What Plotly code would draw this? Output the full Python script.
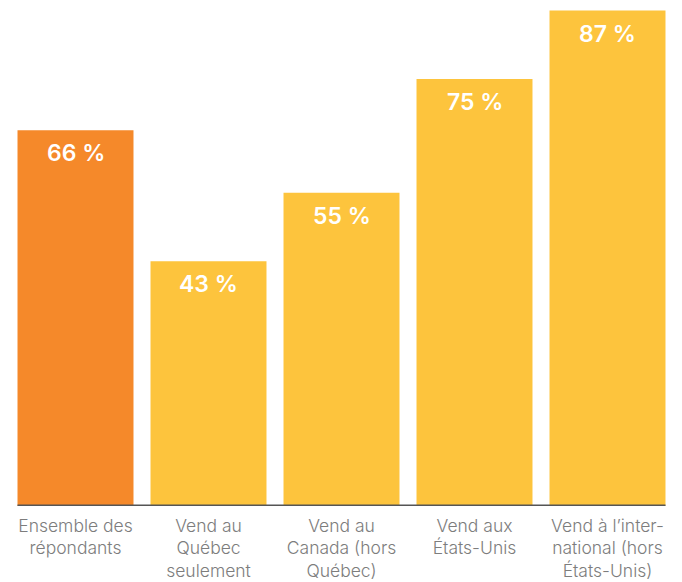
import plotly.graph_objects as go

categories = ["Ensemble des<br>répondants", "Vend au<br>Québec<br>seulement",
              "Vend au<br>Canada (hors<br>Québec)", "Vend aux<br>États-Unis",
              "Vend à l’inter-<br>national (hors<br>États-Unis)"]
values = [66, 43, 55, 75, 87]
value_labels = ["66 %", "43 %", "55 %", "75 %", "87 %"]
colors = ["#F5892A", "#FDC43D", "#FDC43D", "#FDC43D", "#FDC43D"]

x = list(range(len(values)))
fig = go.Figure(go.Bar(x=x, y=values, marker=dict(color=colors, line=dict(width=0)),
                       hoverinfo="skip"))

for i, (v, t) in enumerate(zip(values, value_labels)):
    fig.add_annotation(x=i, y=v, text=t, showarrow=False, yanchor="top", yshift=-7,
                       font=dict(family="Inter", size=23, color="white", weight=600))

gap = 0.128
fig.add_shape(type="line", x0=-0.5 + gap / 2, x1=len(values) - 0.5 - gap / 2, y0=0, y1=0,
              xref="x", yref="y", line=dict(color="#555555", width=3))

fig.update_layout(
    width=682, height=582, margin=dict(l=1, r=16, t=2, b=84, autoexpand=False),
    paper_bgcolor="white", plot_bgcolor="white", bargap=gap, showlegend=False,
    xaxis=dict(tickvals=x, ticktext=categories, range=[-0.5, len(values) - 0.5],
               showgrid=False, zeroline=False, showline=False, ticks="",
               ticklabelstandoff=7,
               tickfont=dict(family="Inter", size=17.5, color="#7d7d7d", weight=300)),
    yaxis=dict(range=[0, 87.1], visible=False, showgrid=False, zeroline=False),
)
fig.write_html("out.html")
